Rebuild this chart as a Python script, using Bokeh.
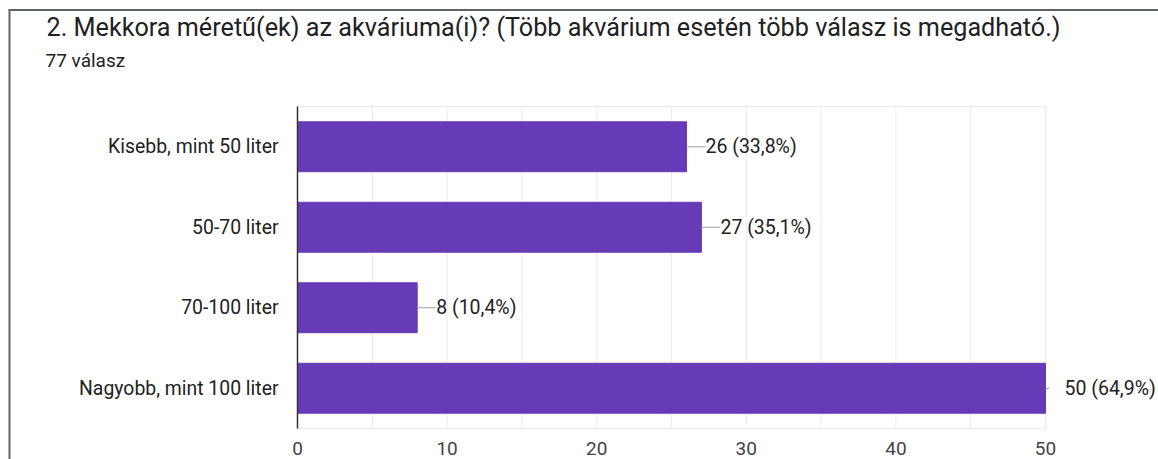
from bokeh.plotting import figure
from bokeh.models import Range1d, ColumnDataSource
from bokeh.core.properties import value
from bokeh.embed import file_html
from bokeh.resources import INLINE

title_text = "2. Mekkora méretű(ek) az akváriuma(i)? (Több akvárium esetén több válasz is megadható.)"
subtitle_text = "77 válasz"
categories = ["Kisebb, mint 50 liter", "50-70 liter", "70-100 liter", "Nagyobb, mint 100 liter"]
counts = [26, 27, 8, 50]
percents = ["33,8%", "35,1%", "10,4%", "64,9%"]
x_ticks = [0, 10, 20, 30, 40, 50]
x_minor = [5, 15, 25, 35, 45]
x_max = 50

# ---- layout (pixels on the canvas) ----
W, H = 1158, 459
PX_LEFT, PX_RIGHT = 297, 1045      # plot area x-extent (0 .. x_max)
PX_TOP, PX_BOTTOM = 106, 428       # plot area y-extent
n = len(categories)
SX = (PX_RIGHT - PX_LEFT) / x_max
SY = (PX_BOTTOM - PX_TOP) / n

def px2x(px):
    return (px - PX_LEFT) / SX

def px2y(py):
    return (PX_BOTTOM - py) / SY

FONT = value("Roboto")

p = figure(width=W, height=H, output_backend="svg", toolbar_location=None,
           x_range=Range1d(px2x(0), px2x(W)), y_range=Range1d(px2y(H), px2y(0)),
           x_axis_location=None, y_axis_location=None,
           min_border=0, min_border_left=0, min_border_right=0,
           min_border_top=0, min_border_bottom=0)
p.grid.visible = False
p.outline_line_color = None
p.background_fill_color = "white"
p.border_fill_color = "white"

ypos = [n - i - 0.5 for i in range(n)]
labels = [f"{c} ({pc})" for c, pc in zip(counts, percents)]
conn = [19 if c < max(counts) else 4 for c in counts]
src = ColumnDataSource(dict(y=ypos, cat=categories, n=counts, label=labels, conn=conn))

# grid lines (major + minor) and plot-area top/bottom lines
grid_x = sorted(x_ticks + x_minor)
p.segment(x0=grid_x, y0=[0] * len(grid_x), x1=grid_x, y1=[n] * len(grid_x),
          line_color="#ebebeb", line_width=1)
p.segment(x0=[0, 0], y0=[0, n], x1=[x_max, x_max], y1=[0, n],
          line_color="#ebebeb", line_width=1)

# bars
p.hbar(y="y", left=0, right="n", height=0.62, fill_color="#673ab7",
       line_color="#673ab7", source=src)

# value labels with connector
p.ray(x="n", y="y", length="conn", length_units="screen", angle=0,
      line_color="#9e9e9e", line_width=1, source=src)
p.text(x="n", y="y", text="label", x_offset=19, source=src,
       text_baseline="middle", text_align="left", text_font=FONT,
       text_font_size="19.5px", text_color="#222222")

# y axis line and category labels
p.segment(x0=[0], y0=[0], x1=[0], y1=[n], line_color="#333333", line_width=1.5)
p.text(x=0, y="y", text="cat", x_offset=-19, source=src,
       text_baseline="middle", text_align="right", text_font=FONT,
       text_font_size="19.4px", text_color="#222222")

# x tick labels (centred 20 px below the plot area)
p.text(x=x_ticks, y=[0] * len(x_ticks), text=[str(t) for t in x_ticks],
       y_offset=20, text_baseline="middle", text_align="center",
       text_font=FONT, text_font_size="19px", text_color="#444444")

# title and subtitle
p.text(x=[px2x(46)], y=[px2y(26.5)], text=[title_text], text_baseline="middle",
       text_align="left", text_font=FONT, text_font_size="25.2px", text_color="#202124")
p.text(x=[px2x(45)], y=[px2y(60)], text=[subtitle_text], text_baseline="middle",
       text_align="left", text_font=FONT, text_font_size="19px", text_color="#202124")

# card border (left and top edge)
p.segment(x0=[px2x(9), px2x(8)], y0=[px2y(9), px2y(9.5)],
          x1=[px2x(9), px2x(W)], y1=[px2y(H), px2y(9.5)],
          line_color="#5f6368", line_width=2)

open("out.html", "w").write(file_html(p, INLINE))
